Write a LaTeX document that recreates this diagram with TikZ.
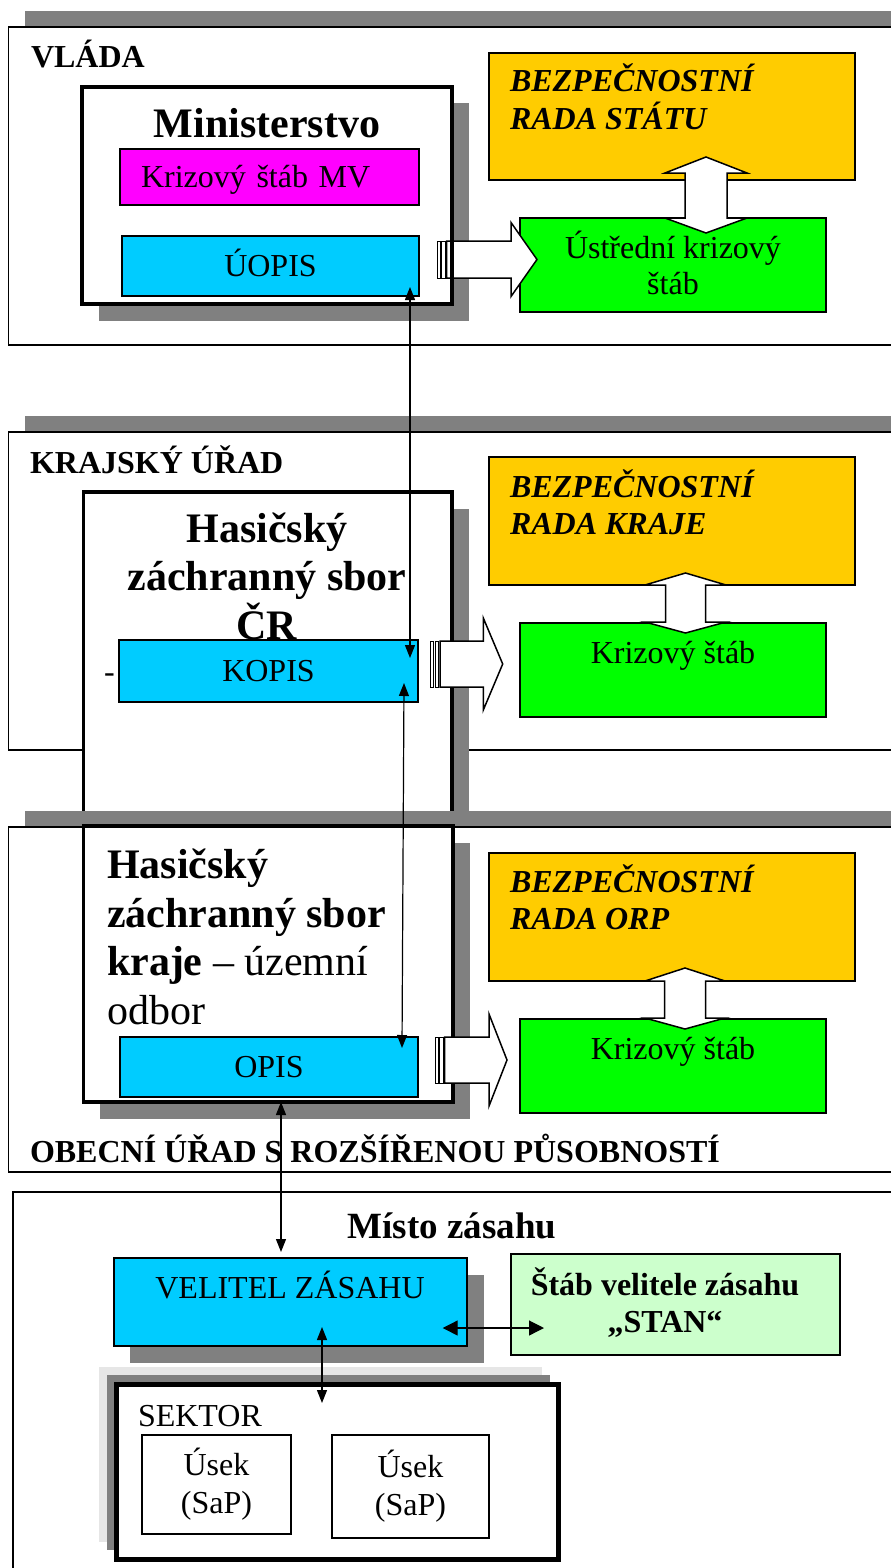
\documentclass[tikz,border=0pt]{standalone}
\usepackage{fontspec}
\setmainfont{Liberation Serif}
\usetikzlibrary{arrows.meta,shadows}

\definecolor{radaorange}{HTML}{FFCC00}
\definecolor{stabgreen}{HTML}{00FF00}
\definecolor{opiscyan}{HTML}{00CCFF}
\definecolor{mvmagenta}{HTML}{FF00FF}
\definecolor{stangreen}{HTML}{CCFFCC}
\definecolor{shadowgray}{HTML}{808080}
\definecolor{lightshadow}{HTML}{E6E6E6}

\newcommand{\normtxt}{\fontsize{32}{36}\selectfont}
\newcommand{\headtxt}{\bfseries\fontsize{32}{36}\selectfont}
\newcommand{\bigtxt}{\bfseries\fontsize{42}{48.5}\selectfont}
\newcommand{\radatxt}{\bfseries\itshape\fontsize{32}{37}\selectfont}
\newcommand{\stantxt}{\bfseries\fontsize{32}{37}\selectfont}
\newcommand{\mistotxt}{\bfseries\fontsize{37}{42}\selectfont}

% block arrow up/down: x, top tip, top base, bottom base, bottom tip, half shaft, half head
\newcommand{\dblarrow}[7]{%
  \draw[line width=1.5pt, fill=white] (#1,#2) -- (#1+#7,#3) -- (#1+#6,#3) -- (#1+#6,#4) -- (#1+#7,#4) -- (#1,#5)
    -- (#1-#7,#4) -- (#1-#6,#4) -- (#1-#6,#3) -- (#1-#7,#3) -- cycle;}
% striped arrow right: x, y, half shaft, head base, half head, tip
\newcommand{\striparrow}[6]{%
  \draw[line width=1pt, fill=white] (#1,#2-#3) rectangle (#1+3,#2+#3);
  \draw[line width=1pt, fill=white] (#1+4.5,#2-#3) rectangle (#1+8,#2+#3);
  \draw[line width=1.5pt, fill=white] (#1+9.5,#2-#3) -- (#4,#2-#3) -- (#4,#2-#5) -- (#6,#2) -- (#4,#2+#5)
    -- (#4,#2+#3) -- (#1+9.5,#2+#3) -- cycle;}

\tikzstyle{section} = [draw, fill=white, line width=1.5pt, anchor=north west, inner sep=0pt, outer sep=0pt,
    minimum width=900pt]
\tikzstyle{office} = [draw, fill=white, line width=3.5pt, anchor=north west, inner sep=0pt, outer sep=0pt]
\tikzstyle{cbox} = [draw, line width=1.8pt, anchor=north west, inner sep=0pt, outer sep=0pt, font=\normtxt,
    text height=21.2pt, text depth=0pt]
\tikzstyle{usek} = [draw, line width=1.5pt, anchor=north west, inner sep=0pt, outer sep=0pt, align=center,
    font=\fontsize{32}{38}\selectfont]
\tikzstyle{txt} = [inner sep=0pt, outer sep=0pt]
\tikzstyle{conn} = [<->, >={Triangle[length=13pt,width=10pt]}, line width=1.2pt]
\tikzstyle{sectionshadow} = [drop shadow={shadow xshift=16pt, shadow yshift=16pt, fill=shadowgray, opacity=1}]
\tikzstyle{boxshadow} = [drop shadow={shadow xshift=16.5pt, shadow yshift=-16.5pt, fill=shadowgray, opacity=1}]

\begin{document}
\begin{tikzpicture}[x=1pt,y=-1pt]
  \path[use as bounding box] (0,0) rectangle (891,1568);
  \clip (0,0) rectangle (891,1568);

  % vlada
  \node[section, sectionshadow, minimum height=318pt] (vlada) at (8.5,27) {};
  \node[txt, anchor=base west, font=\headtxt] (vladatxt) at (31,68) {VLÁDA};
  \node[office, boxshadow, minimum width=370pt, minimum height=217pt] (minis) at (82,87) {};
  \node[txt, anchor=base, font=\bigtxt] (ministxt) at (267,137) {Ministerstvo};
  \node[cbox, fill=mvmagenta, text width=257pt, inner xsep=21pt, align=left, minimum height=56pt] (ksmv) at (120,149) {Krizový štáb MV};
  \node[cbox, fill=opiscyan, minimum width=297pt, minimum height=60pt] (uopis) at (122,236) {ÚOPIS};
  \node[cbox, fill=radaorange, minimum width=366pt, minimum height=127pt] (brs) at (489,53) {};
  \node[txt, anchor=base west, font=\radatxt, align=left] (brstxt) at (510,129) {BEZPEČNOSTNÍ\\RADA STÁTU};
  \node[cbox, fill=stabgreen, minimum width=306pt, minimum height=94pt] (uks) at (520,218) {};
  \node[txt, anchor=base, font=\normtxt, align=center] (ukstxt) at (673,294) {Ústřední krizový\\štáb};
  \dblarrow{706}{157}{173}{218}{233}{21}{41}
  \striparrow{437}{259.5}{18.5}{511}{37}{537}
  \draw[line width=3.5pt] (minis.north east) -- (minis.south east);

  % kraj
  \node[section, sectionshadow, minimum height=318pt] (kraj) at (8.5,432) {};
  \node[txt, anchor=base west, font=\headtxt] (krajtxt) at (30,473) {KRAJSKÝ ÚŘAD};
  \node[office, boxshadow, minimum width=368.5pt, minimum height=343pt] (hzscr) at (83.5,492) {};
  \node[txt, anchor=base, font=\bigtxt, align=center] (hzscrtxt) at (267,639) {Hasičský\\záchranný sbor\\ČR};
  \node[cbox, fill=opiscyan, minimum width=299pt, minimum height=62pt] (kopis) at (119,640) {KOPIS};
  \node[txt, anchor=base west, font=\normtxt] (dash) at (104,682) {-};
  \node[cbox, fill=radaorange, minimum width=366pt, minimum height=128pt] (brk) at (489,457) {};
  \node[txt, anchor=base west, font=\radatxt, align=left] (brktxt) at (510,534) {BEZPEČNOSTNÍ\\RADA KRAJE};
  \node[cbox, fill=stabgreen, minimum width=306pt, minimum height=94pt] (ksk) at (520,623) {};
  \node[txt, anchor=base, font=\normtxt] (ksktxt) at (673,663) {Krizový štáb};
  \dblarrow{685.5}{573}{585}{622}{633}{20}{40.5}
  \striparrow{430.7}{664}{23}{483.3}{46}{502.7}

  % orp
  \node[section, sectionshadow, minimum height=345pt] (orp) at (8.5,827) {};
  \node[txt, anchor=base west, font=\headtxt] (orptxt) at (30,1162) {OBECNÍ ÚŘAD S ROZŠÍŘENOU PŮSOBNOSTÍ};
  \node[office, boxshadow, minimum width=369.5pt, minimum height=276pt] (hzsk) at (83.5,826) {};
  \node[txt, anchor=base west, font=\bigtxt, align=left] (hzsktxt) at (107,1024)
    {Hasičský\\záchranný sbor\\kraje {\mdseries – územní}\\{\mdseries odbor}};
  \node[cbox, fill=opiscyan, minimum width=298pt, minimum height=60pt] (opis) at (120,1037) {OPIS};
  \node[cbox, fill=radaorange, minimum width=366pt, minimum height=128pt] (bro) at (489,853) {};
  \node[txt, anchor=base west, font=\radatxt, align=left] (brotxt) at (510,929) {BEZPEČNOSTNÍ\\RADA ORP};
  \node[cbox, fill=stabgreen, minimum width=306pt, minimum height=94pt] (kso) at (520,1019) {};
  \node[txt, anchor=base, font=\normtxt] (ksotxt) at (673,1059) {Krizový štáb};
  \dblarrow{685}{968}{981}{1018}{1029}{20.5}{40}
  \striparrow{435}{1060}{23}{489}{46}{507}

  % misto zasahu
  \node[section, line width=2pt, minimum height=400pt] (misto) at (12.5,1192) {};
  \node[txt, anchor=base, font=\mistotxt] (mistotxt) at (452,1238) {Místo zásahu};
  \node[cbox, fill=opiscyan, boxshadow, minimum width=353.4pt, minimum height=88pt] (velitel) at (113.6,1258) {};
  \node[txt, anchor=base, font=\normtxt] (veliteltxt) at (290,1298) {VELITEL ZÁSAHU};
  \node[cbox, fill=stangreen, minimum width=329pt, minimum height=101pt] (stan) at (511,1254) {};
  \node[txt, anchor=base, font=\stantxt, align=center] (stantxt) at (665,1332) {Štáb velitele zásahu\\„STAN“};
  \node[office, line width=5pt, minimum width=442.5pt, minimum height=175pt,
    drop shadow={shadow xshift=-17pt, shadow yshift=17pt, fill=lightshadow, opacity=1},
    drop shadow={shadow xshift=-9pt, shadow yshift=9pt, fill=shadowgray, opacity=1}] (sektor) at (116,1384) {};
  \node[txt, anchor=base west, font=\normtxt] (sektortxt) at (138,1426) {SEKTOR};
  \node[usek, minimum width=149pt, minimum height=99pt] (usek1) at (142,1435) {Úsek\\(SaP)};
  \node[usek, minimum width=157pt, minimum height=103pt] (usek2) at (332,1435) {Úsek\\(SaP)};

  % spojeni
  \draw[conn] ([xshift=-9pt,yshift=9pt]uopis.south east) -- ([xshift=-8pt,yshift=-18pt]kopis.north east);
  \draw[conn] ([xshift=-14pt,yshift=19pt]kopis.south east) -- ([xshift=-16pt,yshift=-11pt]opis.north east);
  \draw[conn] ([xshift=12pt,yshift=-5pt]opis.south) -- ([xshift=-9.3pt,yshift=6pt]velitel.north);
  \draw[conn] ([xshift=31.7pt,yshift=19pt]velitel.south) -- ([xshift=-15.25pt,yshift=-19pt]sektor.north);
  \draw[conn, >={Triangle[length=15pt,width=15pt]}] ([xshift=-24.3pt,yshift=-26pt]velitel.east) -- ([xshift=33pt,yshift=-23.5pt]stan.west);
\end{tikzpicture}
\end{document}
